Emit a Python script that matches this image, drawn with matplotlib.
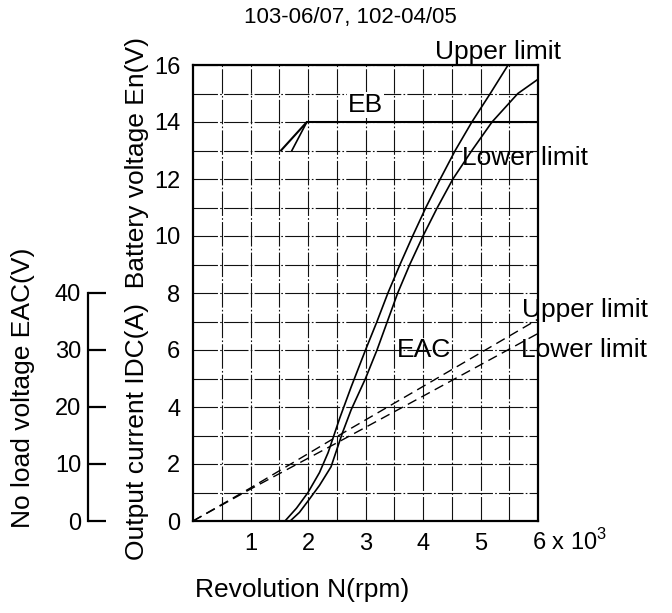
import numpy as np
import matplotlib
matplotlib.use('Agg')
import matplotlib.pyplot as plt
from matplotlib.transforms import ScaledTranslation

plt.rcParams['font.family'] = ['Liberation Sans', 'DejaVu Sans']
plt.rcParams['mathtext.fontset'] = 'custom'
plt.rcParams['mathtext.rm'] = 'Liberation Sans'

# revolution N in 10^3 rpm
# output current IDC (A), upper / lower limit
idc_upper_n = [1.6, 1.8, 2.0, 2.2, 2.35, 2.45, 2.55, 2.75, 3.0, 3.2, 3.39, 3.6, 3.82, 4.05, 4.3, 4.56, 4.85, 5.17, 5.48]
idc_upper = [0, 0.45, 1.0, 1.7, 2.4, 3.0, 3.6, 4.7, 6.0, 7.0, 8, 9, 10, 11, 12, 13, 14, 15, 16]
idc_lower_n = [1.69, 1.85, 2.0, 2.2, 2.4, 2.5, 2.6, 2.75, 3.0, 3.2, 3.38, 3.56, 3.77, 4.0, 4.25, 4.52, 4.85, 5.2, 5.65, 6.0]
idc_lower = [0, 0.3, 0.7, 1.25, 1.9, 2.5, 3.1, 3.9, 5.0, 6.0, 7.0, 8, 9, 10, 11, 12, 13, 14, 15, 15.5]

# battery voltage EB (V)
eb_upper_n = [1.53, 1.98, 6.0]
eb_upper = [13, 14, 14]
eb_lower_n = [1.72, 1.98]
eb_lower = [13, 14]

# no load voltage EAC (V)
eac_n = [0, 1, 2.5, 4, 6]
eac_upper = [0, 5.8, 14.8, 23.6, 35.4]
eac_lower = [0, 5.6, 13.7, 21.9, 32.9]

x_ticks = [1, 2, 3, 4, 5, 6]
x_labels = ['1', '2', '3', '4', '5', '6 x 10$^\\mathrm{3}$']
y_ticks = [0, 2, 4, 6, 8, 10, 12, 14, 16]
eac_ticks = [0, 10, 20, 30, 40]

W, H = 672, 613
fig = plt.figure(figsize=(W / 100, H / 100), dpi=100)
ax = fig.add_axes([193 / W, 1 - 521 / H, 345 / W, 456 / H])
ax.set_xlim(0, 6)
ax.set_ylim(0, 16)

ax.set_xticks(x_ticks)
ax.set_xticklabels(x_labels)
ax.set_xticks(np.arange(0.5, 6, 1.0), minor=True)
ax.set_yticks(y_ticks)
ax.set_yticks(np.arange(1, 16, 2), minor=True)
# scanned grid: long dashes with a dot
ax.grid(which='both', color='#111111', lw=0.8, ls=(0, (22, 2, 1.5, 2)))
ax.tick_params(which='both', length=0, labelsize=17, pad=9)
for s in ax.spines.values():
	s.set_linewidth(1.6)
	s.set_color('black')

lab = ax.get_xticklabels()[-1]
lab.set_ha('left')
lab.set_transform(lab.get_transform() + ScaledTranslation(-0.06, 0.04, fig.dpi_scale_trans))

ax.plot(idc_upper_n, idc_upper, color='black', lw=1.2)
ax.plot(idc_lower_n, idc_lower, color='black', lw=1.2)
ax.plot(eb_upper_n, eb_upper, color='black', lw=1.5)
ax.plot(eb_lower_n, eb_lower, color='black', lw=1.2)

# EAC scale on the far left, 40 V lines up with 8 on the main scale
ax2 = ax.twinx()
ax2.set_ylim(0, 80)
ax2.yaxis.tick_left()
for side in ('top', 'right', 'bottom'):
	ax2.spines[side].set_visible(False)
ax2.spines['left'].set_position(('axes', -0.304))
ax2.spines['left'].set_bounds(0, 40)
ax2.spines['left'].set_linewidth(1.6)
ax2.set_yticks(eac_ticks)
ax2.tick_params(axis='y', direction='in', length=13, width=1.6, labelsize=17, pad=5)
ax2.plot(eac_n, eac_upper, color='black', lw=1.0, ls=(0, (7, 4)))
ax2.plot(eac_n, eac_lower, color='black', lw=1.0, ls=(0, (7, 4)))

fs = 19
ax.text(3.0, 14.6, 'EB', ha='center', va='center', fontsize=fs,
	bbox=dict(fc='white', ec='none', pad=1))
ax.text(3.55, 6.0, 'EAC', ha='left', va='center', fontsize=fs)
ax.text(4.21, 16.45, 'Upper limit', ha='left', va='center', fontsize=fs)
ax.text(4.67, 12.73, 'Lower limit', ha='left', va='center', fontsize=fs)
ax.text(5.72, 7.4, 'Upper limit', ha='left', va='center', fontsize=fs)
ax.text(5.7, 6.0, 'Lower limit', ha='left', va='center', fontsize=fs)

fig.text(350 / W, 1 - 18 / H, '103-06/07, 102-04/05', ha='center', va='center', fontsize=16)
fig.text(195 / W, 1 - 590 / H, 'Revolution N(rpm)', ha='left', va='center', fontsize=fs)
fig.text(137 / W, 1 - 298 / H, 'Output current IDC(A)  Battery voltage En(V)',
	rotation=90, ha='center', va='center', fontsize=fs)
fig.text(23 / W, 1 - 388 / H, 'No load voltage EAC(V)', rotation=90,
	ha='center', va='center', fontsize=fs)

fig.savefig('out.png', dpi=100)
